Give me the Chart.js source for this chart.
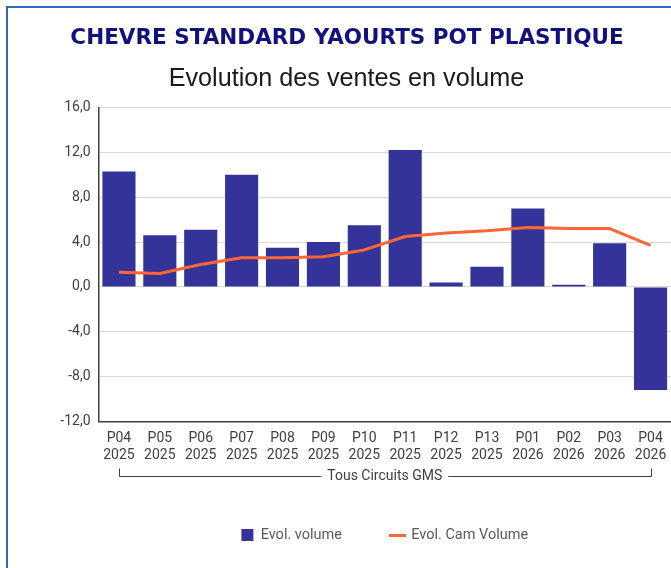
<!DOCTYPE html>
<html>
<head>
<meta charset="utf-8">
<script src="https://cdn.jsdelivr.net/npm/chart.js@4/dist/chart.umd.min.js"></script>
<style>
  html, body { margin: 0; padding: 0; background: #fff; overflow: hidden; }
  canvas { display: block; }
</style>
</head>
<body>
<canvas id="chart" width="671" height="568"></canvas>
<script>
// Periods and years shown under each bar
const periods = ['P04', 'P05', 'P06', 'P07', 'P08', 'P09', 'P10', 'P11', 'P12', 'P13', 'P01', 'P02', 'P03', 'P04'];
const years   = ['2025', '2025', '2025', '2025', '2025', '2025', '2025', '2025', '2025', '2025', '2026', '2026', '2026', '2026'];

// Volume evolution (%) per period, bars
const evolVolume = [10.3, 4.6, 5.1, 10.0, 3.5, 4.0, 5.5, 12.2, 0.4, 1.8, 7.0, 0.2, 3.9, -9.2];
// Rolling (CAM) volume evolution (%), line
const evolCamVolume = [1.3, 1.2, 2.0, 2.6, 2.6, 2.7, 3.3, 4.5, 4.8, 5.0, 5.3, 5.2, 5.2, 3.7];

const seriesNames = ['Evol. volume', 'Evol. Cam Volume'];
const yMin = -12, yMax = 16, yStep = 4;

const chartTitle = 'CHEVRE STANDARD YAOURTS POT PLASTIQUE';
const chartSubtitle = 'Evolution des ventes en volume';
const groupLabel = 'Tous Circuits GMS';

const BAR_COLOR = '#333399';
const LINE_COLOR = '#ff6633';
const AXIS_COLOR = '#404040';
const TEXT_COLOR = '#404040';
const FONT = 'Roboto, "Liberation Sans", sans-serif';
const GROUP_FONT_SIZE = 14;
const GROUP_LINE_HEIGHT = 0.2;
const GROUP_PAD = { top: 3.0, bottom: -0.3 };

// Short horizontal stroke used as the legend swatch of the line series
const lineSwatch = document.createElement('canvas');
lineSwatch.width = 17;
lineSwatch.height = 3;
(function () {
  const c = lineSwatch.getContext('2d');
  c.fillStyle = LINE_COLOR;
  c.fillRect(0, 0, 17, 3);
})();

// White page, blue frame and the two heading lines
const frameAndHeadings = {
  id: 'frameAndHeadings',
  beforeDraw(chart) {
    const ctx = chart.ctx;
    ctx.save();
    ctx.fillStyle = '#ffffff';
    ctx.fillRect(0, 0, chart.width, chart.height);
    ctx.strokeStyle = '#2e6bb6';
    ctx.lineWidth = 2;
    ctx.strokeRect(7, 7, chart.width + 40, chart.height + 40);

    ctx.textAlign = 'center';
    ctx.textBaseline = 'alphabetic';
    ctx.fillStyle = '#12127f';
    ctx.font = 'bold 21.5px "DejaVu Sans", sans-serif';
    ctx.fillText(chartTitle, 347, 44.3);
    ctx.fillStyle = '#1a1a1a';
    ctx.font = '25.2px "Liberation Sans", sans-serif';
    ctx.fillText(chartSubtitle, 346.5, 85.7);
    ctx.restore();
  }
};

// Bracket under the category labels, around the x-axis title
const groupBracket = {
  id: 'groupBracket',
  afterDraw(chart) {
    const xs = chart.scales.x;
    const ctx = chart.ctx;
    const x0 = Math.round(xs.getPixelForValue(0)) + 0.5;
    const x1 = Math.round(xs.getPixelForValue(periods.length - 1)) + 0.5;
    const titleY = xs.bottom - GROUP_FONT_SIZE * GROUP_LINE_HEIGHT / 2 - GROUP_PAD.bottom;
    const y = Math.floor(titleY) + 0.5;
    ctx.save();
    ctx.font = GROUP_FONT_SIZE + 'px ' + FONT;
    const tw = ctx.measureText(groupLabel).width;
    const cx = (xs.left + xs.right) / 2;
    const gap = 6;
    ctx.strokeStyle = AXIS_COLOR;
    ctx.lineWidth = 1;
    ctx.beginPath();
    ctx.moveTo(x0, y - 8);
    ctx.lineTo(x0, y);
    ctx.lineTo(cx - tw / 2 - gap, y);
    ctx.moveTo(cx + tw / 2 + gap, y);
    ctx.lineTo(x1, y);
    ctx.lineTo(x1, y - 8);
    ctx.stroke();
    ctx.restore();
  }
};

new Chart(document.getElementById('chart'), {
  type: 'bar',
  data: {
    labels: periods.map((p, i) => [p, years[i]]),
    datasets: [
      {
        type: 'bar',
        label: seriesNames[0],
        data: evolVolume,
        backgroundColor: BAR_COLOR,
        borderWidth: 0,
        barPercentage: 0.81,
        categoryPercentage: 1,
        order: 2
      },
      {
        type: 'line',
        label: seriesNames[1],
        data: evolCamVolume,
        borderColor: LINE_COLOR,
        backgroundColor: LINE_COLOR,
        borderWidth: 3,
        pointRadius: 0,
        tension: 0,
        borderJoinStyle: 'round',
        fill: false,
        order: 1
      }
    ]
  },
  options: {
    responsive: false,
    animation: false,
    devicePixelRatio: 1,
    layout: { padding: { left: 0, right: 0, top: 107.5, bottom: 15.7 } },
    plugins: {
      title: { display: false },
      tooltip: { enabled: false },
      legend: {
        position: 'bottom',
        fullSize: false,
        labels: {
          usePointStyle: true,
          boxWidth: 12,
          boxHeight: 12,
          padding: 50,
          color: '#595959',
          font: { family: FONT, size: 14.5 },
          generateLabels(chart) {
            return chart.data.datasets.map((ds, i) => ({
              text: ds.label,
              fillStyle: ds.type === 'line' ? ds.borderColor : ds.backgroundColor,
              strokeStyle: 'rgba(0,0,0,0)',
              lineWidth: 0,
              pointStyle: ds.type === 'line' ? lineSwatch : 'rect',
              fontColor: '#595959',
              hidden: !chart.isDatasetVisible(i),
              datasetIndex: i
            }));
          }
        }
      }
    },
    scales: {
      x: {
        offset: true,
        afterFit(scale) { scale.paddingLeft = 0; scale.paddingRight = 0; },
        grid: { display: false, drawTicks: false },
        border: { display: true, color: AXIS_COLOR, width: 1.5 },
        ticks: {
          color: TEXT_COLOR,
          padding: 8,
          maxRotation: 0,
          autoSkip: false,
          font: { family: FONT, size: 14, lineHeight: 1.243 }
        },
        title: {
          display: true,
          text: groupLabel,
          color: TEXT_COLOR,
          font: { family: FONT, size: GROUP_FONT_SIZE, lineHeight: GROUP_LINE_HEIGHT },
          padding: GROUP_PAD
        }
      },
      y: {
        min: yMin,
        max: yMax,
        afterFit(scale) { scale.width = 98.5; },
        grid: { color: '#d9d9d9', lineWidth: 1, drawTicks: false },
        border: { display: true, color: AXIS_COLOR, width: 1.5 },
        ticks: {
          stepSize: yStep,
          color: TEXT_COLOR,
          padding: 8,
          font: { family: FONT, size: 14 },
          callback: v => Number(v).toFixed(1).replace('.', ',')
        }
      }
    }
  },
  plugins: [frameAndHeadings, groupBracket]
});
</script>
</body>
</html>
